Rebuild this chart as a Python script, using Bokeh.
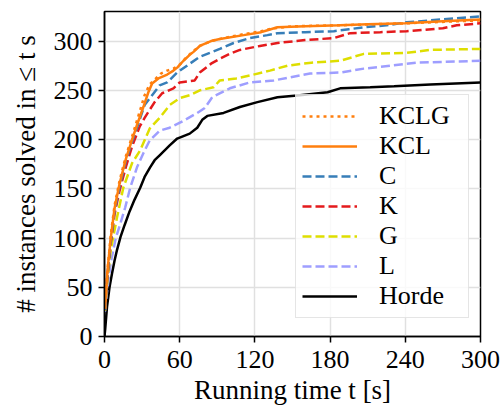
from bokeh.plotting import figure
from bokeh.models import FixedTicker, Legend, LegendItem
from bokeh.embed import file_html
from bokeh.resources import INLINE

# ---- data ----
t_kclg = [0.3, 2, 5, 8, 12, 17, 22, 28, 32, 36, 41, 45, 50, 55, 60, 65, 70, 76, 85, 95, 111, 125, 135, 150, 188, 240, 300]
v_kclg = [28, 62, 103, 133, 158, 183, 203, 228, 245, 256, 262, 267, 270, 272, 276, 283, 289, 295, 300, 303, 307, 310, 313, 315, 316, 318, 321]

t_kcl = [0.3, 2, 3, 5, 8, 12, 17, 22, 26, 31, 35, 38, 43, 50, 55, 58, 63, 68, 71, 76, 85, 92, 111, 125, 130, 138, 160, 188, 210, 240, 270, 300]
v_kcl = [28, 60, 75, 100, 130, 155, 180, 200, 215, 233, 248, 257, 262, 266, 270, 273, 280, 286, 289, 295, 300, 302, 306, 309, 311, 314, 315, 316, 317, 318, 320, 322]

t_c = [0.3, 2, 5, 8, 12, 17, 22, 27, 32, 38, 44, 50, 58, 68, 76, 84, 92, 103, 116, 130, 138, 160, 183, 195, 207, 225, 241, 260, 280, 300]
v_c = [27, 58, 97, 127, 152, 178, 198, 216, 235, 245, 255, 258, 268, 277, 284, 288, 292, 298, 303, 306, 308, 309, 310, 312, 314, 316, 319, 321, 323, 325]

t_k = [0.3, 2, 5, 8, 12, 17, 22, 28, 32, 36, 40, 46, 55, 60, 72, 76, 85, 92, 100, 108, 124, 138, 160, 183, 196, 220, 241, 270, 281, 300]
v_k = [27, 57, 95, 124, 148, 172, 193, 213, 222, 230, 238, 247, 252, 258, 260, 268, 277, 282, 287, 291, 295, 298, 301, 303, 308, 309, 310, 313, 316, 318]

t_g = [0.3, 2, 5, 10, 15, 22, 28.5, 36, 44, 52, 60, 68, 76, 87, 92, 105, 116, 132, 146, 165, 188, 207, 241, 260, 300]
v_g = [26, 52, 88, 121, 151, 176, 189, 211, 222, 235, 242, 245, 250, 253, 260, 262, 265, 270, 275, 278, 280, 287, 288, 291, 292]

t_l = [0.3, 2, 5, 9, 12.5, 16.5, 20.5, 26, 31, 36, 44, 52, 63, 74, 80, 86, 100, 116, 135, 164, 188, 207, 249, 300]
v_l = [25, 45, 75, 100, 114, 131, 151, 172, 186, 199, 209, 212, 219, 227, 232, 243, 252, 258, 260, 267, 268, 272, 278, 280]

t_horde = [0, 0.6, 2, 4, 6, 8, 10, 13, 16, 20, 24, 28.5, 32, 36.5, 40, 44, 52, 58, 68, 74, 78, 82, 95, 108, 122, 138, 156, 178, 188, 212, 231, 260, 300]
v_horde = [0, 8, 30, 50, 64, 77, 88, 102, 113, 127, 139, 151, 162, 172, 179, 184, 194, 201, 206, 212, 220, 224, 227, 233, 238, 243, 245, 248, 252, 253, 254, 256, 258]

series_names = ["KCLG", "KCL", "C", "K", "G", "L", "Horde"]
x_ticks = [0, 60, 120, 180, 240, 300]
y_ticks = [0, 50, 100, 150, 200, 250, 300]

FONT = "Liberation Serif"

p = figure(width=500, height=412, x_range=(0, 300), y_range=(0, 330),
           output_backend="svg", toolbar_location=None,
           min_border_left=104, min_border_right=20, min_border_top=11, min_border_bottom=76)

p.background_fill_color = "white"
p.border_fill_color = "white"
p.outline_line_color = "black"
p.outline_line_width = 1.5

p.xgrid.grid_line_color = "#e0e0e0"
p.ygrid.grid_line_color = "#e0e0e0"
p.xgrid.grid_line_width = 1.5
p.ygrid.grid_line_width = 1.5

p.xaxis.ticker = FixedTicker(ticks=x_ticks)
p.yaxis.ticker = FixedTicker(ticks=y_ticks)
for ax in (p.xaxis[0], p.yaxis[0]):
    ax.axis_line_color = "black"
    ax.axis_line_width = 1.5
    ax.major_tick_line_color = "black"
    ax.major_tick_line_width = 1.5
    ax.major_tick_out = 6
    ax.major_tick_in = 0
    ax.minor_tick_line_color = None
    ax.major_label_text_font = FONT
    ax.major_label_text_font_size = "26px"
    ax.major_label_text_color = "black"
    ax.axis_label_text_font = FONT
    ax.axis_label_text_font_size = "27px"
    ax.axis_label_text_font_style = "normal"
    ax.axis_label_text_color = "black"

p.xaxis.axis_label = "Running time t [s]"
p.yaxis.axis_label = "# instances solved in \u2264 t s"
p.xaxis.major_label_standoff = 8
p.xaxis.axis_label_standoff = 4
p.yaxis.major_label_standoff = 6
p.yaxis.axis_label_standoff = 10

ORANGE = "#ff7f0e"
DASH = "9 4"
r_horde = p.line(t_horde, v_horde, line_color="black", line_width=2.5)
r_l = p.line(t_l, v_l, line_color="#9e9eff", line_width=2.5, line_dash=DASH)
r_g = p.line(t_g, v_g, line_color="#dede00", line_width=2.5, line_dash=DASH)
r_k = p.line(t_k, v_k, line_color="#e41a1c", line_width=2.5, line_dash=DASH)
r_c = p.line(t_c, v_c, line_color="#377eb8", line_width=2.5, line_dash=DASH)
r_kcl = p.line(t_kcl, v_kcl, line_color=ORANGE, line_width=2.5)
r_kclg = p.line(t_kclg, v_kclg, line_color=ORANGE, line_width=2.5, line_dash="3 4")

renderers = [r_kclg, r_kcl, r_c, r_k, r_g, r_l, r_horde]
legend = Legend(items=[LegendItem(label=n, renderers=[r]) for n, r in zip(series_names, renderers)],
                location=(191, 18))
legend.label_text_font = FONT
legend.label_text_font_size = "26px"
legend.label_text_color = "black"
legend.glyph_width = 55
legend.glyph_height = 24
legend.label_height = 24
legend.label_width = 83
legend.spacing = 0
legend.padding = 6
legend.margin = 0
legend.label_standoff = 22
legend.border_line_color = "#cccccc"
legend.border_line_width = 1.5
legend.background_fill_color = "white"
legend.background_fill_alpha = 0.8
p.add_layout(legend)

open("out.html", "w").write(file_html(p, INLINE))
